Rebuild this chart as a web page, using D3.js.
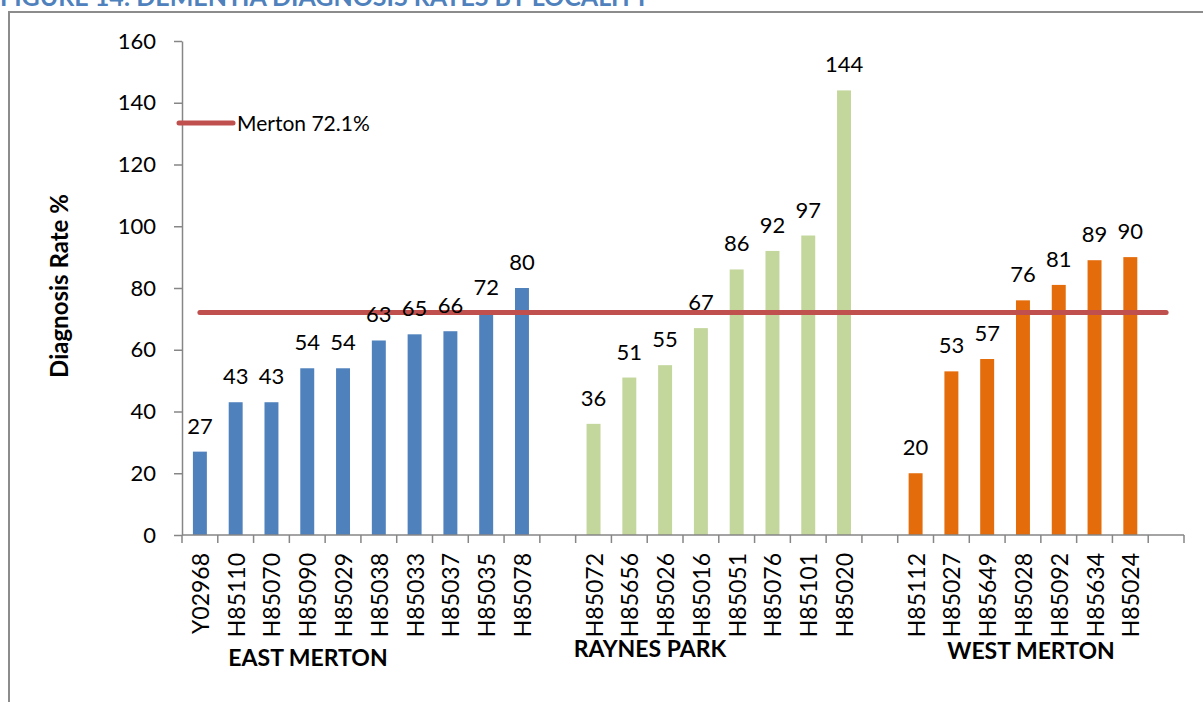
<!DOCTYPE html>
<html>
<head>
<meta charset="utf-8">
<script src="https://cdn.jsdelivr.net/npm/d3@7"></script>
<style>
	body { margin: 0; background: #fff; }
	svg { display: block; font-family: Lato, 'Open Sans', sans-serif; }
</style>
</head>
<body>
<svg id="chart"></svg>
<script>
// Practice codes and diagnosis rates, per locality
const EAST_CODES = ['Y02968', 'H85110', 'H85070', 'H85090', 'H85029', 'H85038', 'H85033', 'H85037', 'H85035', 'H85078'];
const EAST_VALUES = [27, 43, 43, 54, 54, 63, 65, 66, 72, 80];
const RAYNES_CODES = ['H85072', 'H85656', 'H85026', 'H85016', 'H85051', 'H85076', 'H85101', 'H85020'];
const RAYNES_VALUES = [36, 51, 55, 67, 86, 92, 97, 144];
const WEST_CODES = ['H85112', 'H85027', 'H85649', 'H85028', 'H85092', 'H85634', 'H85024'];
const WEST_VALUES = [20, 53, 57, 76, 81, 89, 90];
const GROUP_NAMES = ['EAST MERTON', 'RAYNES PARK', 'WEST MERTON'];
const MERTON_RATE = 72.1;
const MERTON_LABEL = 'Merton 72.1%';
const Y_TICKS = [0, 20, 40, 60, 80, 100, 120, 140, 160];
const TITLE = 'FIGURE 14: DEMENTIA DIAGNOSIS RATES BY LOCALITY';
const Y_TITLE = 'Diagnosis Rate %';

// Page dimensions
const WIDTH = 1203;
const HEIGHT = 702;

// Plot area
const PLOT_LEFT = 182;
const PLOT_RIGHT = 1184;
const PLOT_TOP = 41;
const PLOT_BOTTOM = 535;
const BAR_SHARE = 0.39;

const GROUP_COLORS = ['#4F81BD', '#C3D69B', '#E46C0A'];
const LINE_COLOR = '#C0504D';
const AXIS_COLOR = '#868686';

// Where the locality captions sit under the codes
const GROUP_LABEL_POS = [
	{ x: 308, y: 666 },
	{ x: 650, y: 657 },
	{ x: 1031, y: 659 },
];

// one slot per practice, with an empty slot after every locality
const groups = [
	[EAST_CODES, EAST_VALUES],
	[RAYNES_CODES, RAYNES_VALUES],
	[WEST_CODES, WEST_VALUES],
];
const rows = [];
groups.forEach(([codes, values], g) => {
	codes.forEach((code, i) => rows.push({ key: code, label: code, value: values[i], group: g }));
	rows.push({ key: `gap${g}`, label: '', value: null, group: g });
});

const svg = d3.select('#chart')
	.attr('width', WIDTH)
	.attr('height', HEIGHT);

const x = d3.scaleBand()
	.domain(rows.map(r => r.key))
	.range([PLOT_LEFT, PLOT_RIGHT])
	.padding(0);

const y = d3.scaleLinear()
	.domain([0, 160])
	.range([PLOT_BOTTOM, PLOT_TOP]);

const center = key => x(key) + x.bandwidth() / 2;

// Title, mostly cut off by the top of the page
svg.append('text')
	.attr('x', 0)
	.attr('y', 6)
	.attr('fill', '#4F81BD')
	.attr('font-weight', 'bold')
	.attr('font-size', 25)
	.text(TITLE);

// Chart frame
svg.append('rect')
	.attr('x', 9)
	.attr('y', 12)
	.attr('width', 1300)
	.attr('height', 800)
	.attr('fill', 'none')
	.attr('stroke', '#8C8C8C')
	.attr('stroke-width', 2);

// Bars
const barWidth = x.bandwidth() * BAR_SHARE;
const data = rows.filter(r => r.value !== null);

svg.append('g')
	.selectAll('rect')
	.data(data)
	.enter()
	.append('rect')
	.attr('x', r => center(r.key) - barWidth / 2)
	.attr('y', r => y(r.value))
	.attr('width', barWidth)
	.attr('height', r => y(0) - y(r.value))
	.attr('fill', r => GROUP_COLORS[r.group]);

// Y axis
const yAxis = svg.append('g')
	.attr('transform', `translate(${PLOT_LEFT},0)`)
	.call(d3.axisLeft(y).tickValues(Y_TICKS).tickSize(8).tickPadding(18).tickSizeOuter(0));
yAxis.select('.domain').attr('stroke', AXIS_COLOR).attr('stroke-width', 1.5);
yAxis.selectAll('.tick line').attr('stroke', AXIS_COLOR).attr('stroke-width', 1.5);
yAxis.selectAll('.tick text')
	.attr('font-family', 'Lato, sans-serif')
	.attr('font-size', 22)
	.attr('fill', '#000');

// X axis: line, tick marks on slot boundaries, rotated codes
const xAxis = svg.append('g');
xAxis.append('line')
	.attr('x1', PLOT_LEFT)
	.attr('x2', PLOT_RIGHT)
	.attr('y1', PLOT_BOTTOM)
	.attr('y2', PLOT_BOTTOM)
	.attr('stroke', AXIS_COLOR)
	.attr('stroke-width', 1.5);

const boundaries = rows.map(r => x(r.key)).concat([PLOT_RIGHT]);
xAxis.selectAll('.xtick')
	.data(boundaries)
	.enter()
	.append('line')
	.attr('class', 'xtick')
	.attr('x1', b => b)
	.attr('x2', b => b)
	.attr('y1', PLOT_BOTTOM)
	.attr('y2', PLOT_BOTTOM + 8)
	.attr('stroke', AXIS_COLOR)
	.attr('stroke-width', 1.5);

xAxis.selectAll('.xlabel')
	.data(data)
	.enter()
	.append('text')
	.attr('class', 'xlabel')
	.attr('transform', r => `translate(${center(r.key) + 9},${PLOT_BOTTOM + 18}) rotate(-90)`)
	.attr('text-anchor', 'end')
	.attr('font-size', 23)
	.text(r => r.label);

// Merton average line
const first = rows[0].key;
const last = rows[rows.length - 1].key;
svg.append('line')
	.attr('x1', center(first))
	.attr('x2', center(last))
	.attr('y1', y(MERTON_RATE))
	.attr('y2', y(MERTON_RATE))
	.attr('stroke', LINE_COLOR)
	.attr('stroke-width', 5)
	.attr('stroke-linecap', 'round');

// Value labels
svg.append('g')
	.selectAll('text')
	.data(data)
	.enter()
	.append('text')
	.attr('x', r => center(r.key))
	.attr('y', r => y(r.value) - 18)
	.attr('text-anchor', 'middle')
	.attr('font-size', 22)
	.text(r => r.value);

// Legend
const legend = svg.append('g').attr('transform', 'translate(179,123)');
legend.append('line')
	.attr('x1', 0)
	.attr('x2', 54)
	.attr('stroke', LINE_COLOR)
	.attr('stroke-width', 5)
	.attr('stroke-linecap', 'round');
legend.append('text')
	.attr('x', 58)
	.attr('y', 8)
	.attr('font-size', 21)
	.text(MERTON_LABEL);

// Y axis title
svg.append('text')
	.attr('transform', 'translate(68,286) rotate(-90)')
	.attr('text-anchor', 'middle')
	.attr('font-weight', 'bold')
	.attr('font-size', 24)
	.text(Y_TITLE);

// Locality captions
svg.append('g')
	.selectAll('text')
	.data(GROUP_NAMES)
	.enter()
	.append('text')
	.attr('x', (d, i) => GROUP_LABEL_POS[i].x)
	.attr('y', (d, i) => GROUP_LABEL_POS[i].y)
	.attr('text-anchor', 'middle')
	.attr('font-weight', 'bold')
	.attr('font-size', 23)
	.text(d => d);
</script>
</body>
</html>
